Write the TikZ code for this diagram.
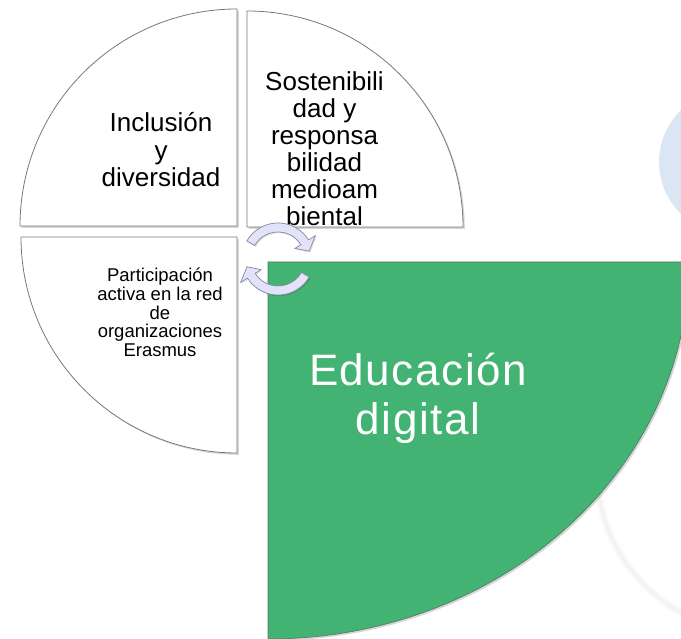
\documentclass[tikz,border=0pt]{standalone}
\usepackage{fontspec}
\setmainfont{Liberation Sans}
\definecolor{edgray}{RGB}{120,120,120}
\definecolor{edgreen}{RGB}{66,179,114}
\definecolor{greenedge}{RGB}{80,120,95}
\definecolor{paleblue}{RGB}{219,230,244}
\definecolor{arrowfill}{RGB}{226,226,248}
\definecolor{arrowedge}{RGB}{135,135,160}
\begin{document}
\begin{tikzpicture}[x=1pt,y=1pt,
  quad/.style={fill=white, draw=edgray, line width=0.8pt},
  qshadow/.style={fill=black, opacity=0.16},
  cyc/.style={fill=arrowfill, draw=arrowedge, line width=0.7pt},
  lbl/.style={align=center, inner sep=0pt, text=black}]
\useasboundingbox (0,0) rectangle (681,639);
\clip (0,0) rectangle (681,639);
% pale blue circle (right edge)
\fill[paleblue] (731,477) circle[radius=72];
% faint background circle (bottom right)
\foreach \w/\o in {9/0.010,6/0.014,3/0.02}
  \draw[black, opacity=\o, line width=\w] (760,169) circle[radius=163];
% shadows
\begin{scope}[shift={(1.8,-1.8)}]
  \fill[qshadow] (237,413) -- (20,413) arc[start angle=180, end angle=90, radius=217] -- cycle;
  \fill[qshadow] (247,412) -- (247,628) arc[start angle=90, end angle=0, radius=216] -- cycle;
  \fill[qshadow] (237,402) -- (237,186) arc[start angle=-90, end angle=-180, radius=216] -- cycle;
  \fill[qshadow] (268,377) -- (689,377) arc[start angle=0, end angle=-90, x radius=421, y radius=377] -- cycle;
\end{scope}
% quadrants
\path[quad] (237,413) -- (20,413) arc[start angle=180, end angle=90, radius=217] -- cycle;
\path[quad] (247,412) -- (247,628) arc[start angle=90, end angle=0, radius=216] -- cycle;
\path[quad] (237,402) -- (237,186) arc[start angle=-90, end angle=-180, radius=216] -- cycle;
\path[fill=edgreen, draw=greenedge, line width=0.6pt] (268,377) -- (689,377) arc[start angle=0, end angle=-90, x radius=421, y radius=377] -- cycle;
% labels
\node[lbl, font=\fontsize{26}{27.5}\selectfont] (incl) at (161,489) {Inclusión\\y\\diversidad};
\node[lbl, font=\fontsize{26}{27}\selectfont] (sost) at (324.5,490.5) {Sostenibili\\dad y\\responsa\\bilidad\\medioam\\biental};
\node[lbl, font=\fontsize{18.5}{18.75}\selectfont] (part) at (160,326.5) {Participación\\activa en la red\\de\\organizaciones\\Erasmus};
\node[lbl, text=white, font=\fontsize{44}{49}\selectfont\addfontfeatures{LetterSpace=3.5}] (edu) at (418,241) {Educación\\digital};
% cycle arrows
\begin{scope}[shift={(278,380)}]
  \fill[black, opacity=0.12, shift={(1.2,-1.2)}] (150:36) arc[start angle=150, end angle=32, radius=36] -- (32:44) -- (14:32) -- (32:20) -- (32:27) arc[start angle=32, end angle=150, radius=27] -- cycle;
  \fill[black, opacity=0.12, shift={(1.2,-1.2)}] (-30:36) arc[start angle=-30, end angle=-148, radius=36] -- (-148:44) -- (-166:32) -- (-148:20) -- (-148:27) arc[start angle=-148, end angle=-30, radius=27] -- cycle;
  \path[cyc] (150:36) arc[start angle=150, end angle=32, radius=36] -- (32:44) -- (14:32) -- (32:20) -- (32:27) arc[start angle=32, end angle=150, radius=27] -- cycle;
  \path[cyc] (-30:36) arc[start angle=-30, end angle=-148, radius=36] -- (-148:44) -- (-166:32) -- (-148:20) -- (-148:27) arc[start angle=-148, end angle=-30, radius=27] -- cycle;
\end{scope}
\end{tikzpicture}
\end{document}
